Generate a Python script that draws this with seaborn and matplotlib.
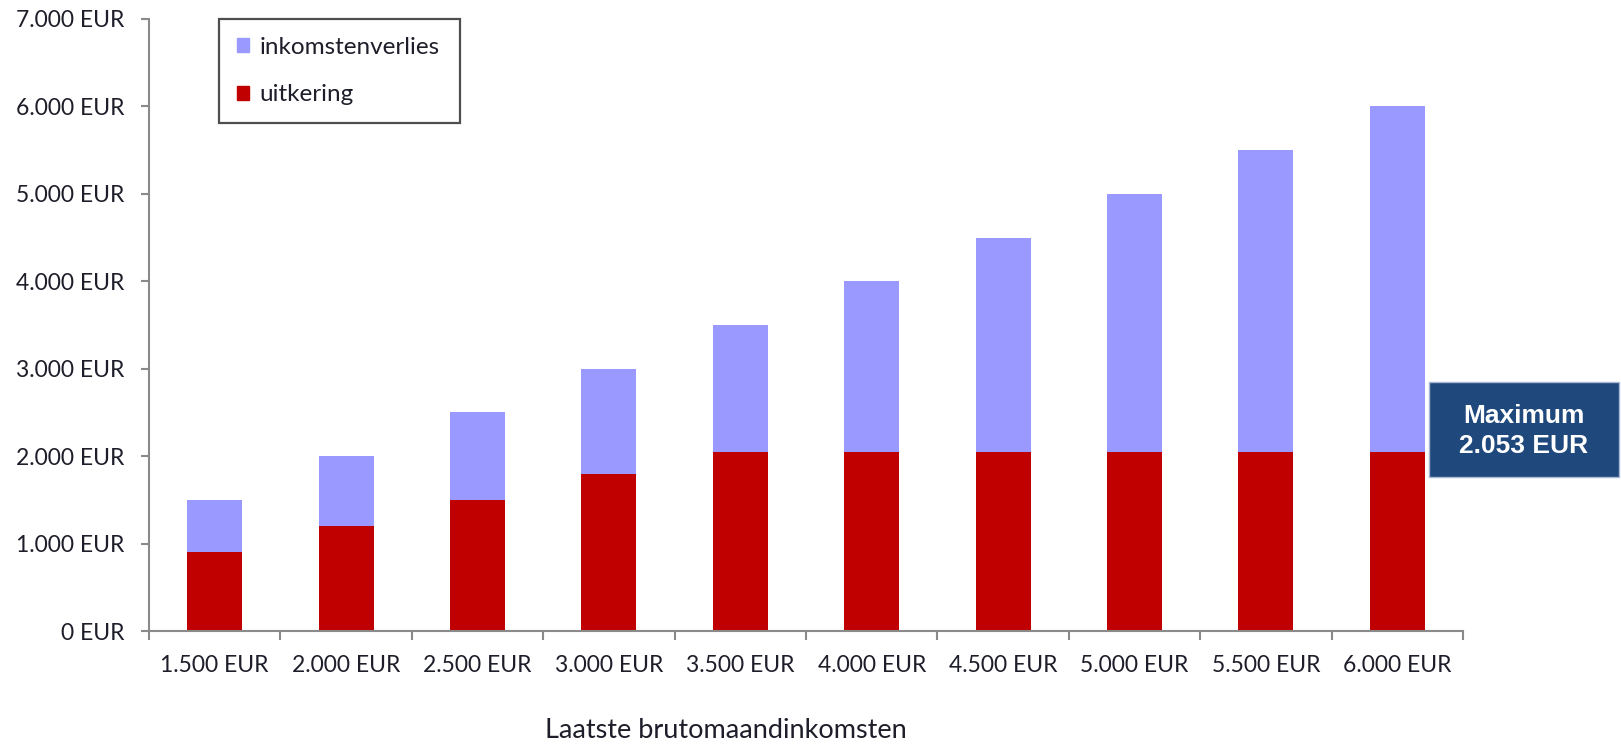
import matplotlib
matplotlib.use("Agg")
import matplotlib.pyplot as plt
import matplotlib.patches as mpatches
from matplotlib.ticker import FuncFormatter, FixedLocator
import seaborn as sns
import pandas as pd

categories = ["1.500 EUR", "2.000 EUR", "2.500 EUR", "3.000 EUR", "3.500 EUR",
              "4.000 EUR", "4.500 EUR", "5.000 EUR", "5.500 EUR", "6.000 EUR"]
total_income = [1500, 2000, 2500, 3000, 3500, 4000, 4500, 5000, 5500, 6000]
uitkering = [900, 1200, 1500, 1800, 2053, 2053, 2053, 2053, 2053, 2053]
inkomstenverlies = [t - u for t, u in zip(total_income, uitkering)]
y_ticks = [0, 1000, 2000, 3000, 4000, 5000, 6000, 7000]
xlabel = "Laatste brutomaandinkomsten"
note = "Maximum\n2.053 EUR"

df = pd.DataFrame({"cat": categories, "total": total_income, "uitkering": uitkering})

sns.set_theme(style="white")
plt.rcParams["font.family"] = ["Lato", "DejaVu Sans"]

C_LOSS = "#9999FF"
C_BEN = "#C00000"
AX_COL = "#8A8A8A"
TXT = "#1E1E2A"

W, H = 1621, 747
L, R, B, T = 149, 1463, 631, 19
fig = plt.figure(figsize=(W/100, H/100), dpi=100)
ax = fig.add_axes([L/W, 1-B/H, (R-L)/W, (B-T)/H])

sns.barplot(data=df, x="cat", y="total", color=C_LOSS, width=0.42, ax=ax,
            saturation=1, edgecolor="none", linewidth=0)
sns.barplot(data=df, x="cat", y="uitkering", color=C_BEN, width=0.42, ax=ax,
            saturation=1, edgecolor="none", linewidth=0)

ax.set_xlim(-0.5, len(categories) - 0.5)
ax.set_ylim(0, 7000)
ax.yaxis.set_major_locator(FixedLocator(y_ticks))
ax.yaxis.set_major_formatter(FuncFormatter(lambda v, p: f"{int(v):,} EUR".replace(",", ".")))

for s in ["top", "right"]:
    ax.spines[s].set_visible(False)
for s in ["left", "bottom"]:
    ax.spines[s].set_color(AX_COL)
    ax.spines[s].set_linewidth(1.5)

ax.tick_params(axis="y", which="major", length=6, width=1.5, color=AX_COL,
               labelsize=16.5, labelcolor=TXT, pad=11.5, left=True)
ax.set_xticks(range(len(categories)), labels=categories)
ax.tick_params(axis="x", which="major", length=0, labelsize=16.5,
               labelcolor=TXT, pad=17)
ax.set_xticks([i - 0.5 for i in range(len(categories) + 1)], minor=True)
ax.tick_params(axis="x", which="minor", length=6.5, width=1.5, color=AX_COL, bottom=True)

ax.set_ylabel("")
ax.set_xlabel(xlabel, fontsize=19.5, color=TXT)
ax.xaxis.set_label_coords((726-L)/(R-L), (B-731)/(B-T))
ax.xaxis.label.set_verticalalignment("center")

handles = [mpatches.Patch(color=C_LOSS, label="inkomstenverlies"),
           mpatches.Patch(color=C_BEN, label="uitkering")]
leg = ax.legend(handles=handles, loc="upper left",
                bbox_to_anchor=((219-L)/(R-L), 1.0, (460-219)/(R-L), 0.0),
                mode="expand", borderaxespad=0, fontsize=17.5,
                frameon=True, fancybox=False, handlelength=0.5, handleheight=0.5,
                handletextpad=0.45, labelspacing=1.1, borderpad=0.72,
                labelcolor=TXT)
leg.get_frame().set_edgecolor("#222222")
leg.get_frame().set_linewidth(1.6)

rect = mpatches.Rectangle((1429/W, 1-477/H), 190/W, 95/H,
                          transform=fig.transFigure, facecolor="#1F497D",
                          edgecolor="#A8B8D0", linewidth=1, zorder=5)
fig.patches.append(rect)
fig.text(1524/W, 1-431/H, note, ha="center", va="center", color="white",
         fontsize=19, fontweight="bold", family=["Liberation Sans", "DejaVu Sans"],
         linespacing=1.32, zorder=6)

fig.savefig("out.png", dpi=100)
